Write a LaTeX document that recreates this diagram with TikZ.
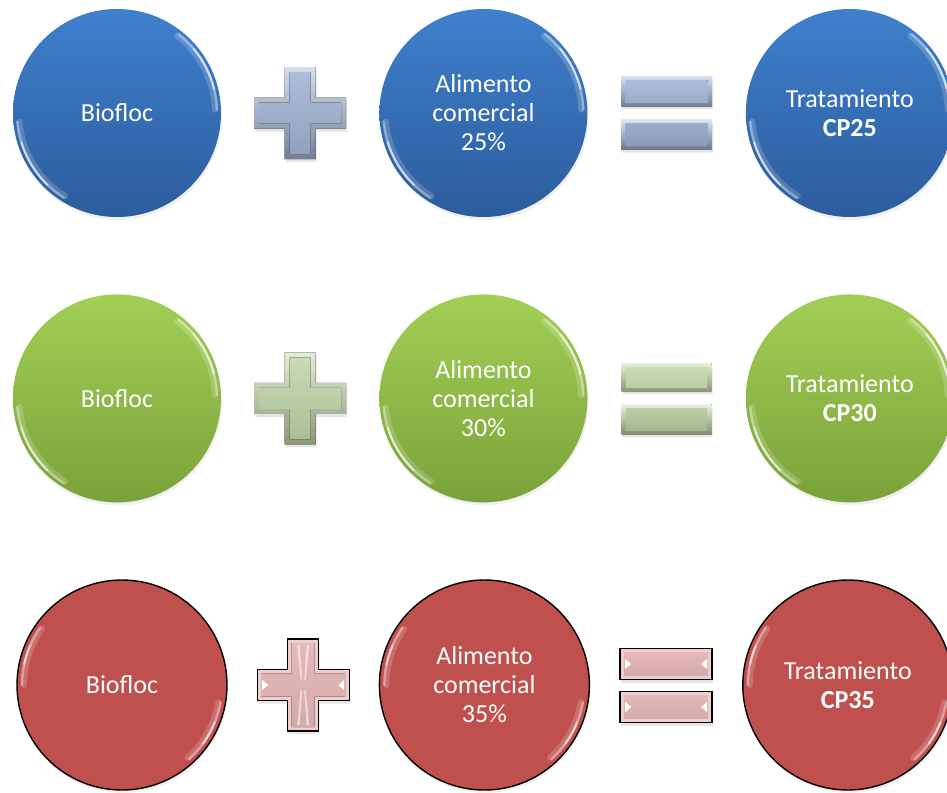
\documentclass[tikz,border=0pt]{standalone}
\usepackage{fontspec}
\setmainfont{Carlito}
\usetikzlibrary{positioning,calc,shadows}

\definecolor{blueTop}{HTML}{3F80CD}
\definecolor{blueBot}{HTML}{2C5C9C}
\definecolor{greenTop}{HTML}{A2CF55}
\definecolor{greenBot}{HTML}{7AA23A}
\definecolor{redFill}{HTML}{C0504D}
\definecolor{blueMark}{HTML}{A5B7D7}
\definecolor{greenMark}{HTML}{C4D8AB}
\definecolor{redMark}{HTML}{E6B9B8}

\tikzset{
  disc/.style={circle, minimum size=208pt, inner sep=0pt, text=white, align=center,
    font=\fontsize{26}{29}\selectfont,
    drop shadow={opacity=.12, shadow xshift=1pt, shadow yshift=-3pt}},
  bluedisc/.style={disc, top color=blueTop, bottom color=blueBot},
  greendisc/.style={disc, top color=greenTop, bottom color=greenBot},
  reddisc/.style={disc, minimum size=210pt, fill=redFill, draw=black, line width=1.4pt},
  shine/.style={white, line cap=round},
  markshadow/.style={black, opacity=.1, xshift=1pt, yshift=-3pt},
}

% plus sign and equals bar, centred on the current origin
\newcommand{\crossshape}[2]{(-#2,-#1) -- (#2,-#1) -- (#2,-#2) -- (#1,-#2) -- (#1,#2) -- (#2,#2) -- (#2,#1) -- (-#2,#1) -- (-#2,#2) -- (-#1,#2) -- (-#1,-#2) -- (-#2,-#2) -- cycle}
\newcommand{\barshape}[3]{(-#2,#1-#3) rectangle (#2,#1+#3)}

% glossy rim on a disc, brighter in the middle of the arc
\newcommand{\gloss}[3]{%
  \pgfmathsetmacro\ga{#2+12}\pgfmathsetmacro\gb{#3-12}%
  \draw[shine, opacity=.18, line width=6pt] ([shift={(#2:98pt)}]#1.center) arc[start angle=#2, end angle=#3, radius=98pt];
  \draw[shine, opacity=.35, line width=2.5pt] ([shift={(#2:100pt)}]#1.center) arc[start angle=#2, end angle=#3, radius=100pt];
  \draw[shine, opacity=.6, line width=1.8pt] ([shift={(\ga:100pt)}]#1.center) arc[start angle=\ga, end angle=\gb, radius=100pt];
}

\begin{document}
\begin{tikzpicture}[x=1pt, y=-1pt]
  \useasboundingbox (0,0) rectangle (947,792);

  % blue row
  \node[bluedisc] (bio1) at (117,113) {Biofloc};
  \node[bluedisc, right=158pt of bio1] (ali1) {Alimento\\comercial\\25\%};
  \node[bluedisc, right=158pt of ali1] (tra1) {Tratamiento\\\textbf{CP25}};

  % green row
  \node[greendisc, below=77pt of bio1] (bio2) {Biofloc};
  \node[greendisc, right=158pt of bio2] (ali2) {Alimento\\comercial\\30\%};
  \node[greendisc, right=158pt of ali2] (tra2) {Tratamiento\\\textbf{CP30}};

  % red row
  \node[reddisc] (bio3) at (122,685) {Biofloc};
  \node[reddisc, right=151pt of bio3] (ali3) {Alimento\\comercial\\35\%};
  \node[reddisc, right=152pt of ali3] (tra3) {Tratamiento\\\textbf{CP35}};

  \foreach \n in {bio1,ali1,tra1,bio2,ali2,tra2} {
    \gloss{\n}{185}{238}
    \gloss{\n}{2}{52}
  }
  \foreach \n in {bio3,ali3,tra3} {
    \gloss{\n}{145}{180}
    \gloss{\n}{312}{350}
  }

  \coordinate (plus1) at ($(bio1)!.5!(ali1)$);
  \coordinate (eq1) at ($(ali1)!.5!(tra1)$);
  \coordinate (plus2) at ($(bio2)!.5!(ali2)$);
  \coordinate (eq2) at ($(ali2)!.5!(tra2)$);
  \coordinate (plus3) at ($(bio3)!.5!(ali3)$);
  \coordinate (eq3) at ($(ali3)!.5!(tra3)$);

  % bevelled signs, blue and green
  \begin{scope}[shift={(plus1)}]
    \fill[markshadow] \crossshape{46}{15.5};
    \fill[top color=blueMark!45!white, bottom color=blueMark!70!black] \crossshape{46}{15.5};
    \fill[top color=blueMark!92!white, bottom color=blueMark!88!black] \crossshape{41}{10.5};
  \end{scope}
  \begin{scope}[shift={(eq1)}]
    \fill[markshadow] \barshape{-22}{45.5}{15} \barshape{21.5}{45.5}{15};
    \fill[top color=blueMark!45!white, bottom color=blueMark!70!black] \barshape{-22}{45.5}{15};
    \fill[top color=blueMark!92!white, bottom color=blueMark!95!black] \barshape{-22}{41}{11};
    \fill[top color=blueMark!35!white, bottom color=blueMark!65!black] \barshape{21.5}{45.5}{15};
    \fill[top color=blueMark!95!black, bottom color=blueMark!85!black] \barshape{21.5}{41}{11};
  \end{scope}
  \begin{scope}[shift={(plus2)}]
    \fill[markshadow] \crossshape{46}{15.5};
    \fill[top color=greenMark!45!white, bottom color=greenMark!70!black] \crossshape{46}{15.5};
    \fill[top color=greenMark!92!white, bottom color=greenMark!88!black] \crossshape{41}{10.5};
  \end{scope}
  \begin{scope}[shift={(eq2)}]
    \fill[markshadow] \barshape{-21}{45}{14} \barshape{21}{45}{15};
    \fill[top color=greenMark!45!white, bottom color=greenMark!70!black] \barshape{-21}{45}{14};
    \fill[top color=greenMark!92!white, bottom color=greenMark!95!black] \barshape{-21}{40.5}{10};
    \fill[top color=greenMark!35!white, bottom color=greenMark!65!black] \barshape{21}{45}{15};
    \fill[top color=greenMark!95!black, bottom color=greenMark!85!black] \barshape{21}{40.5}{11};
  \end{scope}

  % outlined signs, red
  \begin{scope}[shift={(plus3)}]
    \fill[markshadow] \crossshape{46}{15.5};
    \fill[redMark!70!white] \crossshape{46}{15.5};
    \fill[top color=redMark, bottom color=redMark!92!black] \crossshape{42}{11.5};
    \draw[black, line width=1.4pt, line join=round] \crossshape{46}{15.5};
    \fill[white] (-41,-5) -- (-35,0) -- (-41,5) -- cycle;
    \fill[white] (41,-5) -- (35,0) -- (41,5) -- cycle;
    \foreach \s in {-1,1} {
      \fill[white, opacity=.55] (-6,\s*40) -- (-3.5,\s*40) -- (-1,\s*5) -- (-2.5,\s*5) -- cycle;
      \fill[white, opacity=.55] (6,\s*40) -- (3.5,\s*40) -- (1,\s*5) -- (2.5,\s*5) -- cycle;
    }
  \end{scope}
  \begin{scope}[shift={(eq3)}]
    \foreach \c in {-21,22} {
      \fill[markshadow] \barshape{\c}{46}{15.5};
      \fill[redMark!70!white] \barshape{\c}{46}{15.5};
      \fill[top color=redMark, bottom color=redMark!92!black] \barshape{\c}{42}{11.5};
      \draw[black, line width=1.4pt] \barshape{\c}{46}{15.5};
      \fill[white] (-41,\c-5) -- (-35,\c) -- (-41,\c+5) -- cycle;
      \fill[white] (41,\c-5) -- (35,\c) -- (41,\c+5) -- cycle;
    }
  \end{scope}
\end{tikzpicture}
\end{document}
